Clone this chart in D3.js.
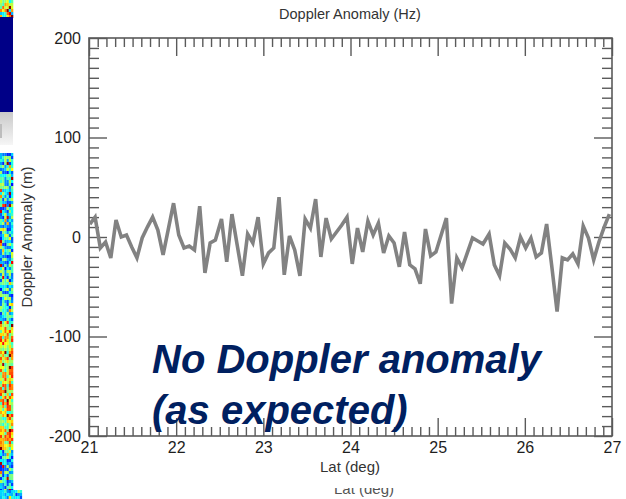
<!DOCTYPE html>
<html>
<head>
<meta charset="utf-8">
<script src="https://cdn.jsdelivr.net/npm/d3@7"></script>
<style>
  html, body { margin: 0; padding: 0; background: #fff; }
  svg { display: block; }
</style>
</head>
<body>
<svg id="chart" width="626" height="499"></svg>
<script>
// Along-track latitude samples (deg)
const lat = [
  21.01, 21.07, 21.13, 21.19, 21.25, 21.31, 21.37, 21.43, 21.49, 21.55,
  21.61, 21.67, 21.73, 21.79, 21.85, 21.91, 21.97, 22.03, 22.09, 22.15,
  22.21, 22.27, 22.33, 22.39, 22.45, 22.52, 22.58, 22.64, 22.70, 22.76,
  22.82, 22.88, 22.94, 23.00, 23.06, 23.12, 23.18, 23.24, 23.30, 23.36,
  23.42, 23.48, 23.54, 23.60, 23.66, 23.72, 23.78, 23.84, 23.90, 23.96,
  24.02, 24.08, 24.14, 24.20, 24.26, 24.32, 24.38, 24.44, 24.50, 24.56,
  24.62, 24.68, 24.74, 24.80, 24.86, 24.92, 24.98, 25.04, 25.10, 25.16,
  25.22, 25.28, 25.34, 25.40, 25.46, 25.52, 25.59, 25.65, 25.71, 25.77,
  25.83, 25.89, 25.95, 26.01, 26.07, 26.13, 26.19, 26.25, 26.31, 26.37,
  26.43, 26.49, 26.55, 26.61, 26.67, 26.73, 26.79, 26.85, 26.91, 26.97
];

// Doppler anomaly at each sample
const anomaly = [
   13,  20, -11,  -5, -21,  17,   0,   2, -10, -21,
   -1,  10,  20,   7, -18,   8,  34,   2, -11,  -9,
  -13,  31, -36,  -6,  -3,  18, -25,  23,  -8, -39,
    3,  -6,  20, -27, -16, -11,  40, -38,   1, -13,
  -39,  18,   9,  38, -20,  19,  -2,   5,  12,  20,
  -27,   9, -15,  16,   2,  14, -16,   1,  -6, -30,
    5, -28, -32, -47,   8, -19, -15,   2,  19, -67,
  -21, -31, -16,  -1,  -4,  -7,   3, -28, -39,  -6,
  -12, -21,   0, -11,  -1, -20, -16,  13, -30, -75,
  -21, -23, -17, -27,  11,  -1, -23,  -5,  10,  23
];

const xTicks = [21, 22, 23, 24, 25, 26, 27];
const yTicks = [-200, -100, 0, 100, 200];
const xMinor = d3.range(21, 27.0001, 0.1).map(v => +v.toFixed(1)).filter(v => !xTicks.includes(v));
const yMinor = d3.range(-200, 201, 10).filter(v => !yTicks.includes(v));

const svg = d3.select("#chart");
const font = "'Liberation Sans', Arial, Helvetica, sans-serif";

// ---- strip of an image panel on the far left ----
function jet(t) {
  t = Math.max(0, Math.min(1, t));
  const c = v => Math.round(255 * Math.max(0, Math.min(1, v)));
  return `rgb(${c(1.5 - Math.abs(4 * t - 3))},${c(1.5 - Math.abs(4 * t - 2))},${c(1.5 - Math.abs(4 * t - 1))})`;
}
function hash(i, j) {
  const s = Math.sin(i * 12.9898 + j * 78.233) * 43758.5453;
  return s - Math.floor(s);
}
const strip = svg.append("g");
function noiseBlock(y0, y1, x1, base, amp) {
  for (let j = 0, yy = y0; yy < y1; j++, yy += 3) {
    for (let i = 0, xx = 0; xx < x1; i++, xx += 2.2) {
      const h = hash(i + 3, j + Math.round(y0));
      const spike = hash(i + 11, j * 3 + 7) > 0.93 ? 0.4 : 0;
      const t = base(yy) + (h - 0.5) * amp + spike;
      strip.append("rect")
        .attr("x", xx).attr("y", yy)
        .attr("width", 2.3).attr("height", 3.1)
        .attr("fill", jet(t));
    }
  }
}
noiseBlock(0, 17, 13, () => 0.55, 0.5);
strip.append("rect").attr("x", 0).attr("y", 17).attr("width", 13).attr("height", 95).attr("fill", "#000087");
const grad = svg.append("defs").append("linearGradient").attr("id", "fade").attr("x1", 0).attr("y1", 0).attr("x2", 0).attr("y2", 1);
grad.append("stop").attr("offset", 0).attr("stop-color", "#c9c9c9");
grad.append("stop").attr("offset", 1).attr("stop-color", "#f6f6f6");
strip.append("rect").attr("x", 0).attr("y", 112).attr("width", 13).attr("height", 33).attr("fill", "url(#fade)");
strip.append("rect").attr("x", 0).attr("y", 124).attr("width", 2).attr("height", 14).attr("fill", "#bdbdbd");
noiseBlock(153, 490, 13, yy => (yy > 320 && yy < 450) ? 0.62 : 0.36, 0.45);
noiseBlock(490, 499, 21, () => 0.3, 0.3);

// ---- chart ----
const x = d3.scaleLinear().domain([21, 27]).range([89, 612]);
const y = d3.scaleLinear().domain([-200, 200]).range([436, 38]);

const axisColor = "#5a5a5a";
const labelColor = "#1e1e1e";

function styleAxis(g) {
  g.attr("font-family", font).attr("font-size", 16);
  g.select(".domain").remove();
  g.selectAll(".tick line").attr("stroke", axisColor).attr("stroke-width", 1.4);
  g.selectAll("text").attr("fill", labelColor);
}
const plain = d => String(d);

// minor ticks on all four sides
svg.append("g").attr("transform", `translate(${x.range()[0]},0)`)
  .call(d3.axisLeft(y).tickValues(yMinor).tickSizeInner(-10).tickSizeOuter(0).tickFormat(""))
  .call(styleAxis);
svg.append("g").attr("transform", `translate(${x.range()[1]},0)`)
  .call(d3.axisRight(y).tickValues(yMinor).tickSizeInner(-10).tickSizeOuter(0).tickFormat(""))
  .call(styleAxis);
svg.append("g").attr("transform", `translate(0,${y.range()[0]})`)
  .call(d3.axisBottom(x).tickValues(xMinor).tickSizeInner(-9).tickSizeOuter(0).tickFormat(""))
  .call(styleAxis);
svg.append("g").attr("transform", `translate(0,${y.range()[1]})`)
  .call(d3.axisTop(x).tickValues(xMinor).tickSizeInner(-9).tickSizeOuter(0).tickFormat(""))
  .call(styleAxis);

// major ticks, labelled on left and bottom
svg.append("g").attr("transform", `translate(${x.range()[0]},0)`)
  .call(d3.axisLeft(y).tickValues(yTicks).tickSizeInner(-18).tickSizeOuter(0).tickPadding(8).tickFormat(plain))
  .call(styleAxis);
svg.append("g").attr("transform", `translate(${x.range()[1]},0)`)
  .call(d3.axisRight(y).tickValues(yTicks).tickSizeInner(-18).tickSizeOuter(0).tickFormat(""))
  .call(styleAxis);
svg.append("g").attr("transform", `translate(0,${y.range()[0]})`)
  .call(d3.axisBottom(x).tickValues(xTicks).tickSizeInner(-18).tickSizeOuter(0).tickPadding(6).tickFormat(plain))
  .call(styleAxis);
svg.append("g").attr("transform", `translate(0,${y.range()[1]})`)
  .call(d3.axisTop(x).tickValues(xTicks).tickSizeInner(-18).tickSizeOuter(0).tickFormat(""))
  .call(styleAxis);

// plot frame
svg.append("rect")
  .attr("x", x.range()[0]).attr("y", y.range()[1])
  .attr("width", x.range()[1] - x.range()[0])
  .attr("height", y.range()[0] - y.range()[1])
  .attr("fill", "none").attr("stroke", axisColor).attr("stroke-width", 1.6);

// anomaly trace
const series = lat.map((d, i) => ({ lat: d, v: anomaly[i] }));
svg.append("path")
  .datum(series)
  .attr("fill", "none")
  .attr("stroke", "#828282")
  .attr("stroke-width", 3.6)
  .attr("stroke-linejoin", "miter")
  .attr("d", d3.line().x(d => x(d.lat)).y(d => y(d.v)));

// titles
svg.append("text")
  .attr("x", 350).attr("y", 19)
  .attr("text-anchor", "middle")
  .attr("font-family", font).attr("font-size", 14.5)
  .attr("fill", "#333")
  .text("Doppler Anomaly (Hz)");

svg.append("text")
  .attr("x", 350).attr("y", 472)
  .attr("text-anchor", "middle")
  .attr("font-family", font).attr("font-size", 15)
  .attr("fill", "#333")
  .text("Lat (deg)");

svg.append("text")
  .attr("transform", "translate(32,237) rotate(-90)")
  .attr("text-anchor", "middle")
  .attr("font-family", font).attr("font-size", 15)
  .attr("fill", "#333")
  .text("Doppler Anomaly (m)");

// partially hidden axis label peeking in at the bottom edge
svg.append("clipPath").attr("id", "peek")
  .append("rect").attr("x", 0).attr("y", 488).attr("width", 626).attr("height", 11);
svg.append("text")
  .attr("clip-path", "url(#peek)")
  .attr("x", 364).attr("y", 494)
  .attr("text-anchor", "middle")
  .attr("font-family", font).attr("font-size", 15)
  .attr("fill", "#555")
  .text("Lat (deg)");

// annotation
const note = svg.append("text")
  .attr("font-family", font)
  .attr("font-size", 40)
  .attr("font-weight", "bold")
  .attr("font-style", "italic")
  .attr("fill", "#002060");
note.append("tspan").attr("x", 152).attr("y", 373).text("No Doppler anomaly");
note.append("tspan").attr("x", 152).attr("y", 424).text("(as expected)");
</script>
</body>
</html>
